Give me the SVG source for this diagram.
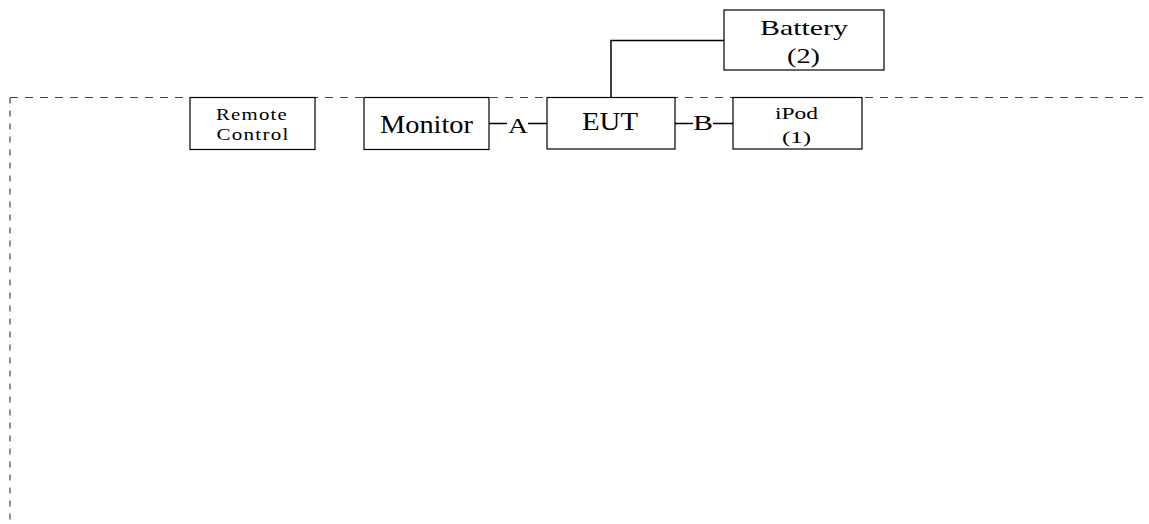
<svg xmlns="http://www.w3.org/2000/svg" width="1149" height="524" viewBox="0 0 1149 524">
<style>
.box{fill:#fff;stroke:#000;stroke-width:1.2}
.t{font-family:"Liberation Serif","Times New Roman",serif;fill:#000;text-anchor:middle}
.w{stroke:#000;stroke-width:1.5;fill:none}
.d{stroke:#444;stroke-width:1.2;fill:none}
</style>
<rect width="1149" height="524" fill="#fff"/>
<g id="boundary">
<path class="d" d="M10,97.5 H1149" stroke-dasharray="8,7"/>
<path class="d" d="M10,97.5 V524" stroke-dasharray="6,7"/>
</g>
<g id="connectors">
<path class="w" d="M489,123.5 H507 M528,123.5 H547"/>
<path class="w" d="M675,123.5 H693 M713,123.5 H733"/>
<path class="w" d="M611,97 V40.5 H724"/>
<text class="t" x="518" y="133" font-size="22" textLength="20" lengthAdjust="spacingAndGlyphs">A</text>
<text class="t" x="703" y="130" font-size="22" textLength="20" lengthAdjust="spacingAndGlyphs">B</text>
</g>
<g id="remote">
<rect class="box" x="190" y="97.5" width="125" height="52" stroke="#555"/>
<text class="t" x="252" y="120" font-size="17" fill="#222" textLength="72" lengthAdjust="spacingAndGlyphs" letter-spacing="1">Remote</text>
<text class="t" x="253" y="140" font-size="17" fill="#222" textLength="73" lengthAdjust="spacingAndGlyphs" letter-spacing="1">Control</text>
</g>
<g id="monitor">
<rect class="box" x="364" y="97.5" width="125" height="52"/>
<text class="t" x="426.5" y="133" font-size="26" textLength="93" lengthAdjust="spacingAndGlyphs">Monitor</text>
</g>
<g id="eut">
<rect class="box" x="547" y="97.5" width="128" height="51.5"/>
<text class="t" x="610" y="130" font-size="25" textLength="56" lengthAdjust="spacingAndGlyphs">EUT</text>
</g>
<g id="ipod">
<rect class="box" x="733" y="97.5" width="129" height="51.5"/>
<text class="t" x="796.5" y="119" font-size="17" textLength="43" lengthAdjust="spacingAndGlyphs">iPod</text>
<text class="t" x="796.5" y="143" font-size="17" textLength="29" lengthAdjust="spacingAndGlyphs">(1)</text>
</g>
<g id="battery">
<rect class="box" x="724" y="10" width="160" height="60"/>
<text class="t" x="804" y="35" font-size="22" textLength="88" lengthAdjust="spacingAndGlyphs">Battery</text>
<text class="t" x="803.5" y="63" font-size="22" textLength="33" lengthAdjust="spacingAndGlyphs">(2)</text>
</g>
</svg>
